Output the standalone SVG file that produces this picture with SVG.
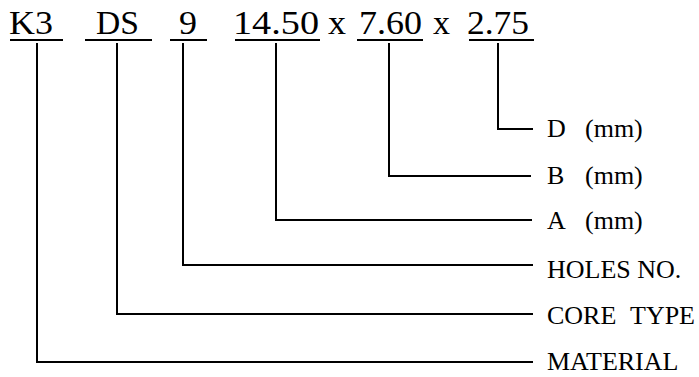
<svg xmlns="http://www.w3.org/2000/svg" width="699" height="377" viewBox="0 0 699 377">
<style>
text { font-family: "Liberation Serif", "Times New Roman", serif; fill: #000; }
.code { font-size: 34px; }
.lbl { font-size: 26px; }
.ul { stroke: #000; stroke-width: 2; fill: none; }
.conn { stroke: #000; stroke-width: 2; fill: none; }
</style>
<rect width="699" height="377" fill="#fff"/>
<g id="code-k3">
<text class="code" x="9" y="33.5" textLength="44" lengthAdjust="spacingAndGlyphs">K3</text>
<line class="ul" x1="10" y1="40" x2="63" y2="40"/>
</g>
<g id="code-ds">
<text class="code" x="96" y="33.5" textLength="43" lengthAdjust="spacingAndGlyphs">DS</text>
<line class="ul" x1="85" y1="40" x2="152" y2="40"/>
</g>
<g id="code-9">
<text class="code" x="179" y="33.5" textLength="18" lengthAdjust="spacingAndGlyphs">9</text>
<line class="ul" x1="170" y1="40" x2="207" y2="40"/>
</g>
<g id="code-a">
<text class="code" x="233" y="33.5" textLength="86" lengthAdjust="spacingAndGlyphs">14.50</text>
<line class="ul" x1="235" y1="40" x2="320" y2="40"/>
</g>
<g id="sep-1">
<text class="code" x="328" y="33.5" textLength="18" lengthAdjust="spacingAndGlyphs">x</text>
</g>
<g id="code-b">
<text class="code" x="359" y="33.5" textLength="63" lengthAdjust="spacingAndGlyphs">7.60</text>
<line class="ul" x1="357" y1="40" x2="423" y2="40"/>
</g>
<g id="sep-2">
<text class="code" x="433" y="33.5" textLength="17" lengthAdjust="spacingAndGlyphs">x</text>
</g>
<g id="code-d">
<text class="code" x="467" y="33.5" textLength="62" lengthAdjust="spacingAndGlyphs">2.75</text>
<line class="ul" x1="469" y1="40" x2="534" y2="40"/>
</g>
<g id="connectors">
<polyline class="conn" points="498,43 498,129 533,129"/>
<polyline class="conn" points="389,43 389,176 531,176"/>
<polyline class="conn" points="276,43 276,220 532,220"/>
<polyline class="conn" points="183,43 183,265 533,265"/>
<polyline class="conn" points="117,43 117,314 533,314"/>
<polyline class="conn" points="37,43 37,362 533,362"/>
</g>
<g id="label-d">
<text class="lbl" y="137"><tspan x="547">D</tspan><tspan x="585">(mm)</tspan></text>
</g>
<g id="label-b">
<text class="lbl" y="183.5"><tspan x="547">B</tspan><tspan x="585">(mm)</tspan></text>
</g>
<g id="label-a">
<text class="lbl" y="228.5"><tspan x="547">A</tspan><tspan x="585">(mm)</tspan></text>
</g>
<g id="label-holes">
<text class="lbl" x="547" y="278">HOLES NO.</text>
</g>
<g id="label-core">
<text class="lbl" y="324"><tspan x="547">CORE</tspan><tspan x="630">TYPE</tspan></text>
</g>
<g id="label-material">
<text class="lbl" x="547" y="370">MATERIAL</text>
</g>
</svg>
